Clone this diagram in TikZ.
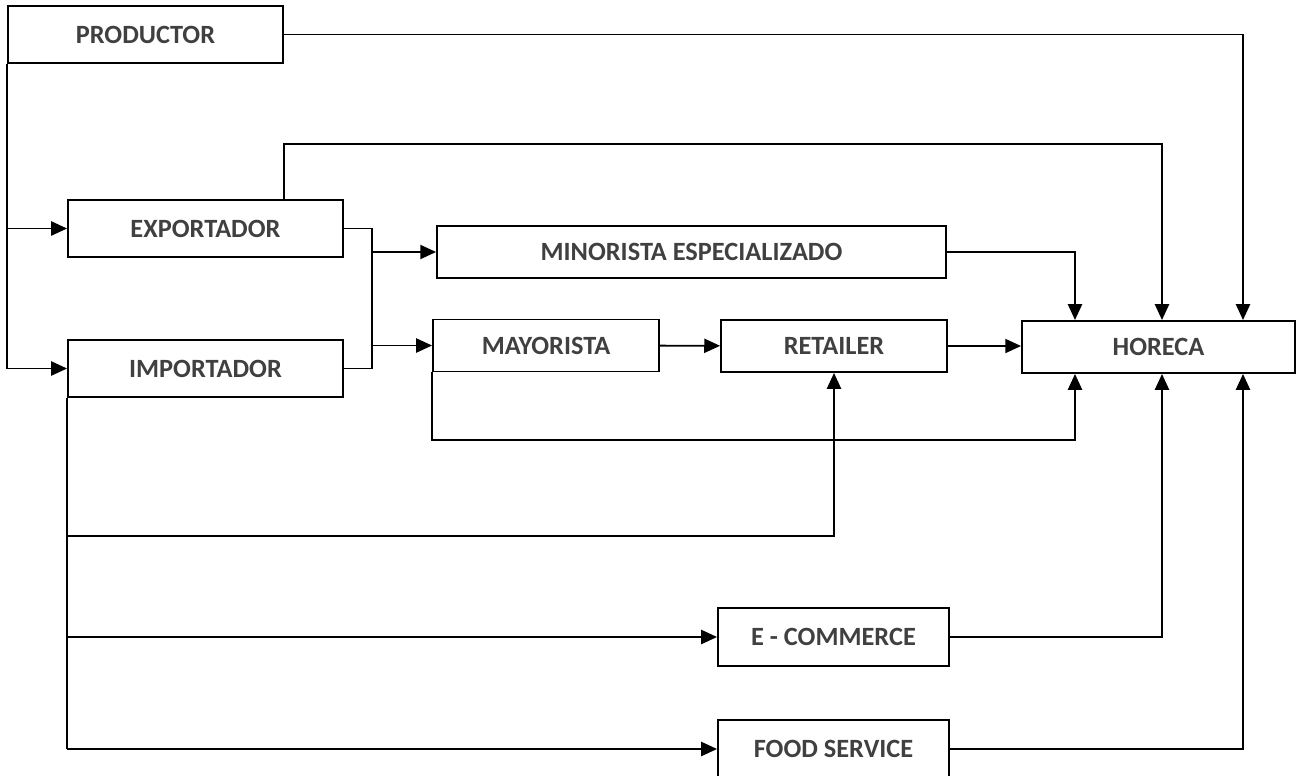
\documentclass[tikz,border=0pt]{standalone}
\usepackage{fontspec}
\setmainfont{Carlito}
\usetikzlibrary{arrows.meta,positioning}

\begin{document}
\begin{tikzpicture}[
x=0.02cm, y=-0.02cm,
box/.style={draw, line width=1.1pt, align=center, inner sep=2pt,
  font=\fontsize{15}{18}\selectfont\bfseries, text=black!75},
wide/.style={box, minimum width=5.5cm, minimum height=1.14cm},
mid/.style={box, minimum width=4.52cm, minimum height=1.04cm},
link/.style={line width=1.1pt},
arrow/.style={link, -{Triangle[length=9pt,width=8pt]}}
]
\useasboundingbox (0,0) rectangle (1296,775);

% boxes
\node[wide] (prod) at (145.5,34.5) {PRODUCTOR};
\node[wide] (exp) at (205.5,228.5) {EXPORTADOR};
\node[wide] (imp) at (205.5,368.5) {IMPORTADOR};
\node[box, minimum width=10.18cm, minimum height=1.04cm] (minor) at (691.5,252) {MINORISTA ESPECIALIZADO};
\node[mid] (mayor) at (546,345.5) {MAYORISTA};
\node[mid] (retail) at (834,346) {RETAILER};
\node[box, minimum width=5.46cm, minimum height=1.04cm] (horeca) at (1158.5,347) {HORECA};
\node[box, minimum width=4.62cm, minimum height=1.16cm] (ecom) at (833.5,637) {E - COMMERCE};
\node[box, minimum width=4.62cm, minimum height=1.16cm] (food) at (833.5,749) {FOOD SERVICE};

% helper points
\coordinate (bus) at (372,0);
\coordinate (upper) at (0,144);
\coordinate (loop) at (0,440);
\coordinate (retline) at (0,536);
\coordinate (colA) at (1075,0);
\coordinate (colB) at (1162,0);
\coordinate (colC) at (1243,0);

% productor
\draw[arrow] (prod.south west) |- (imp.west);
\draw[arrow] (prod.south west |- exp.west) -- (exp.west);
\draw[arrow] (prod.east) -| (colC |- horeca.north);

% exportador / importador
\draw[arrow] (exp.north -| prod.east) -- (upper -| prod.east) -| (colB |- horeca.north);
\draw[link] (exp.east) -- (bus |- exp.east) -- (bus |- imp.east) -- (imp.east);
\draw[arrow] (bus |- minor.west) -- (minor.west);
\draw[arrow] (bus |- mayor.west) -- (mayor.west);

% to horeca
\draw[arrow] (minor.east) -| (colA |- horeca.north);
\draw[arrow] (mayor) -- (retail);
\draw[arrow] (retail.east) -- (retail.east -| horeca.west);
\draw[arrow] (mayor.south west) -- (mayor.south west |- loop) -| (colA |- horeca.south);

% importador downwards
\draw[link] (imp.south west) -- (imp.south west |- food.west);
\draw[arrow] (imp.south west |- retline) -| (retail.south);
\draw[arrow] (imp.south west |- ecom.west) -- (ecom.west);
\draw[arrow] (imp.south west |- food.west) -- (food.west);
\draw[arrow] (ecom.east) -| (colB |- horeca.south);
\draw[arrow] (food.east) -| (colC |- horeca.south);
\end{tikzpicture}
\end{document}
